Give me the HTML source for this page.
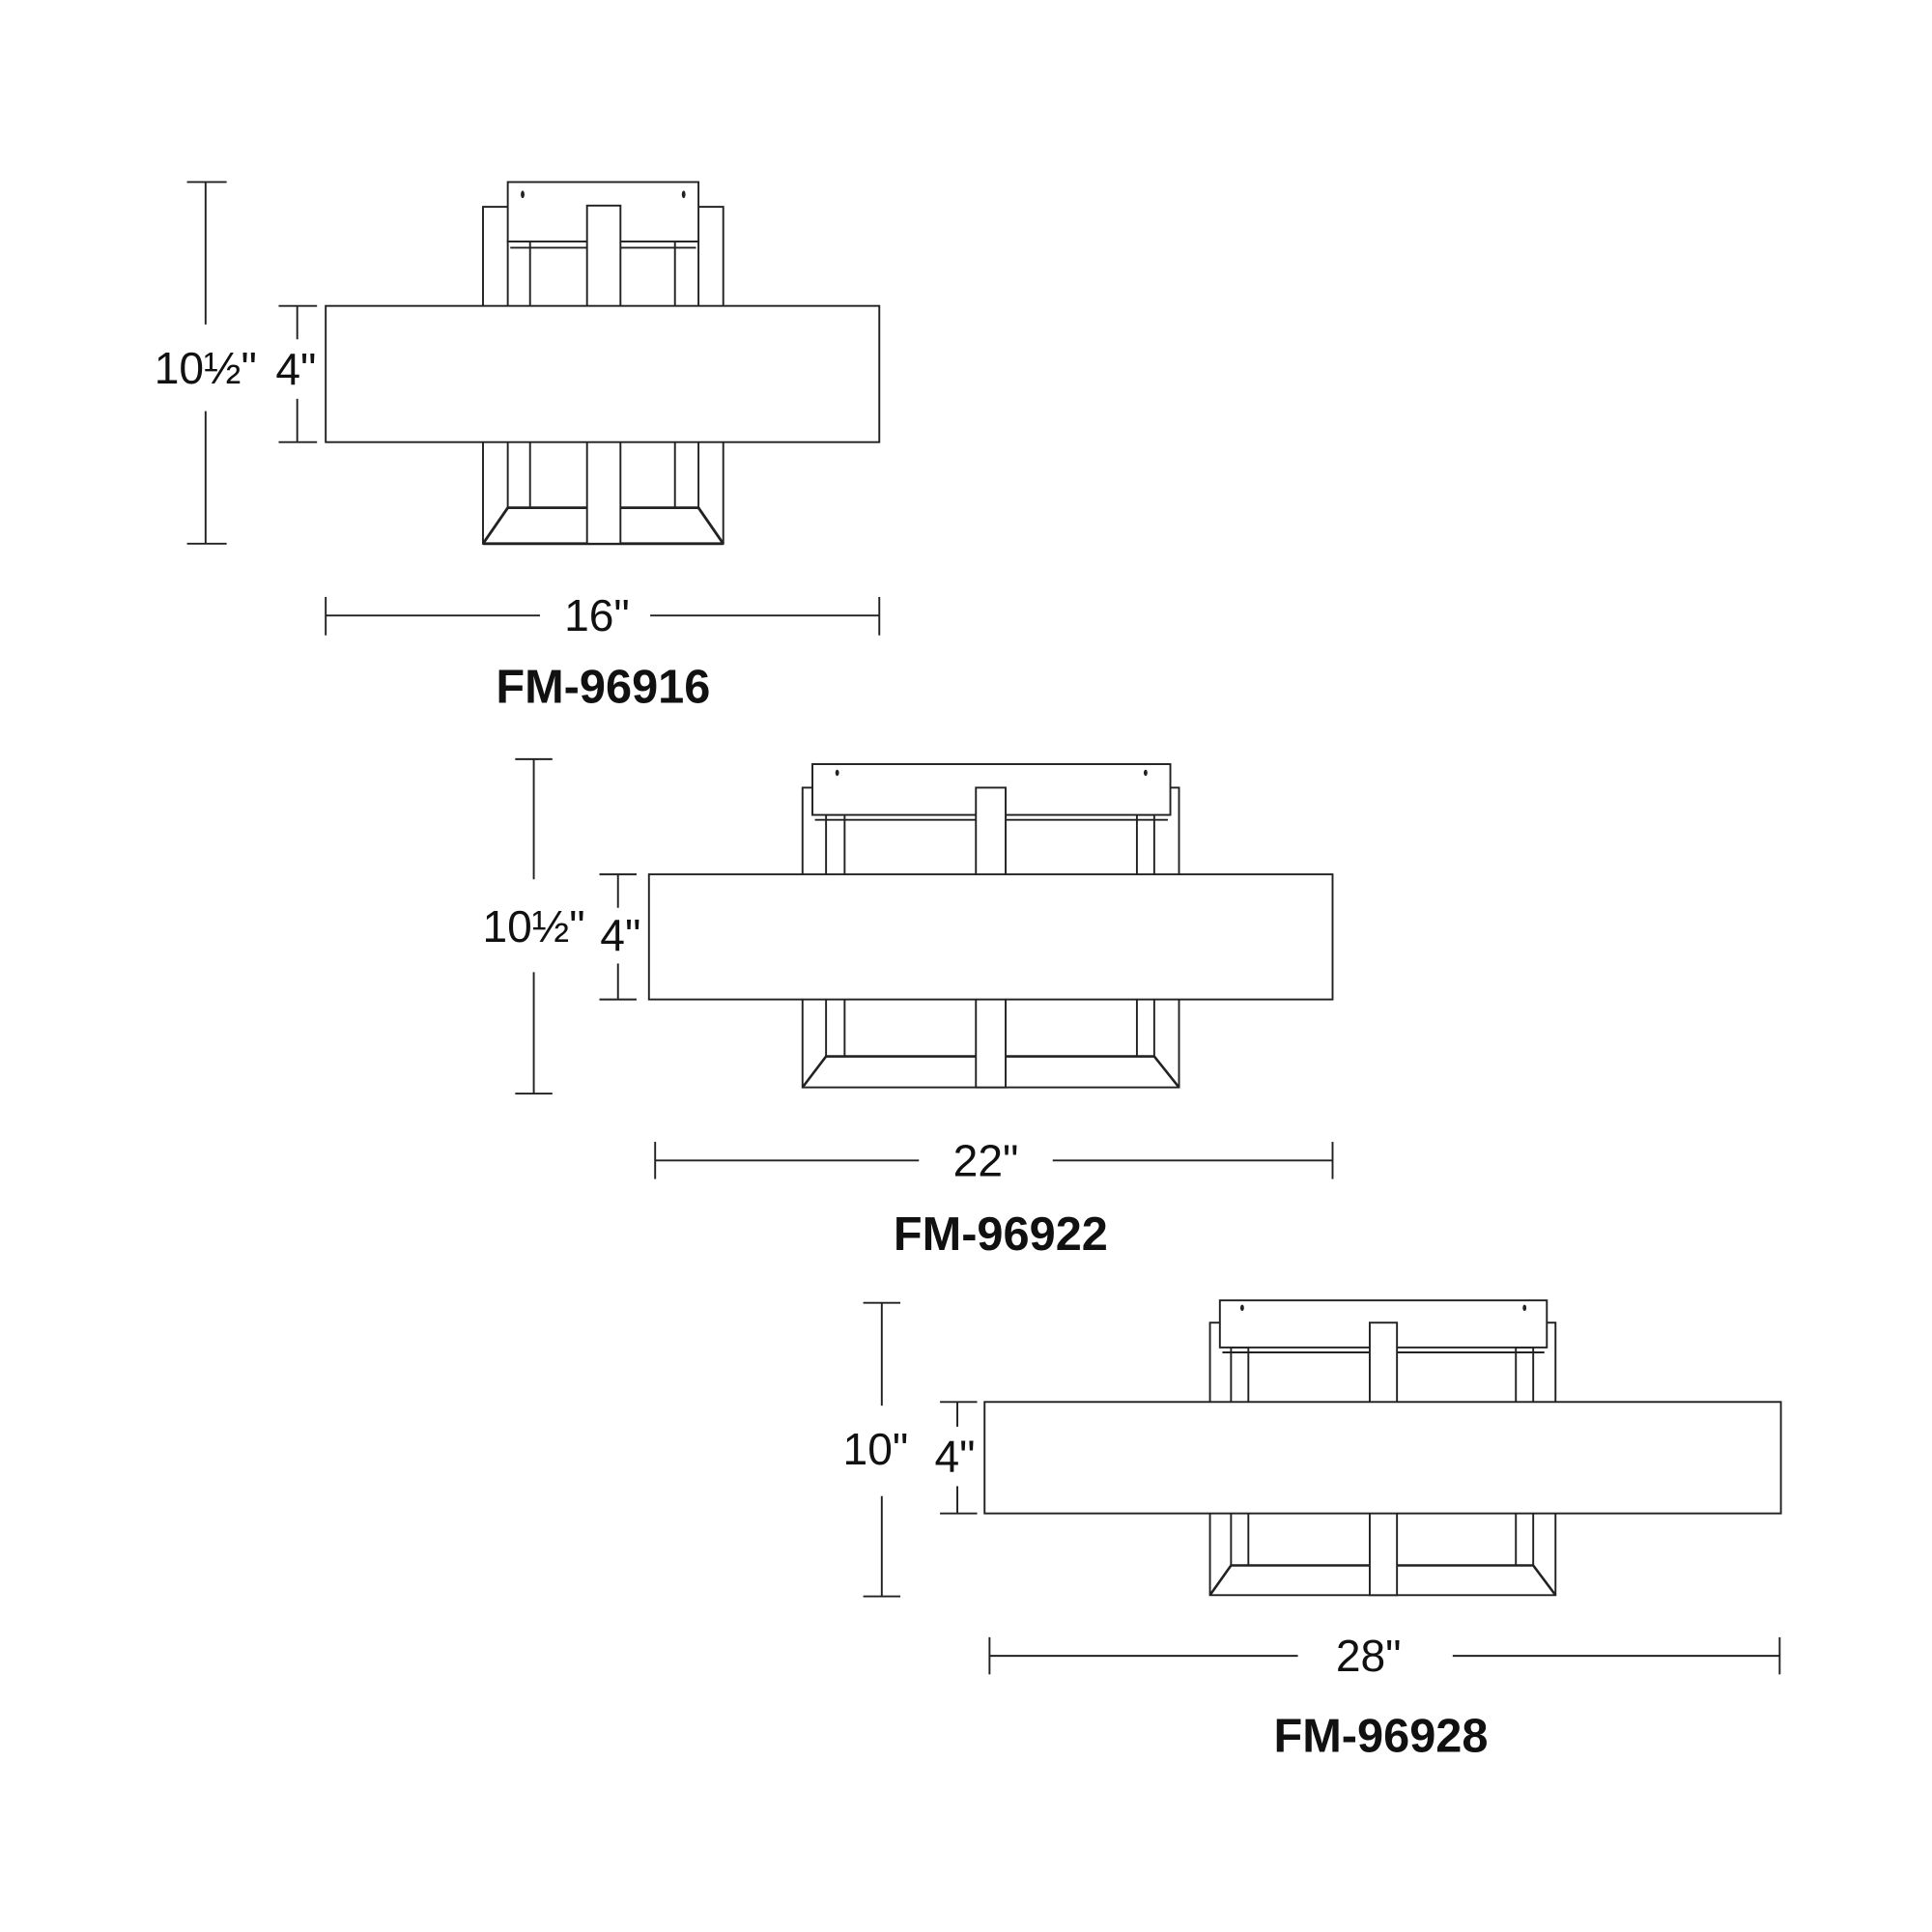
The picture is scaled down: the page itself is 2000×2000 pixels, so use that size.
<!DOCTYPE html>
<html><head><meta charset="utf-8"><style>
html,body{margin:0;padding:0;background:#fff;width:2000px;height:2000px;overflow:hidden}
svg{display:block}
.l{stroke:#222;stroke-width:1.5;fill:none}
.f{stroke:#222;stroke-width:1.5;fill:#fff}
.d{font-family:"Liberation Sans",sans-serif;font-size:36px;fill:#111;text-anchor:middle;dominant-baseline:central}
.b{font-family:"Liberation Sans",sans-serif;font-size:38px;font-weight:bold;fill:#111;text-anchor:middle;dominant-baseline:central}
</style></head><body>
<svg width="2000" height="2000" viewBox="0 0 1560 1560" xmlns="http://www.w3.org/2000/svg">
<g>
<line class="l" x1="166" y1="147" x2="166" y2="262"/><line class="l" x1="166" y1="332" x2="166" y2="439"/>
<line class="l" x1="151" y1="147" x2="183" y2="147"/><line class="l" x1="151" y1="439" x2="183" y2="439"/>
<text class="d" x="166" y="297">10½"</text>
<line class="l" x1="240" y1="247" x2="240" y2="274"/><line class="l" x1="240" y1="322" x2="240" y2="357"/>
<line class="l" x1="225" y1="247" x2="256" y2="247"/><line class="l" x1="225" y1="357" x2="256" y2="357"/>
<text class="d" x="239" y="298">4"</text>
<rect class="l" x="390" y="167" width="194" height="272"/>
<rect class="l" x="410" y="195" width="18" height="215"/><rect class="l" x="545" y="195" width="19" height="215"/>
<polyline class="l" points="390,439 410,410 564,410 584,439" style="stroke-width:2.2"/>
<line class="l" x1="390" y1="439" x2="584" y2="439" style="stroke-width:2.2"/>
<rect class="f" x="410" y="147" width="154" height="48"/>
<line class="l" x1="412" y1="200" x2="562" y2="200"/>
<ellipse cx="422" cy="157" rx="1.5" ry="3" fill="#222"/><ellipse cx="552" cy="157" rx="1.5" ry="3" fill="#222"/>
<rect class="f" x="474" y="166" width="27" height="273"/>
<rect class="f" x="263" y="247" width="447" height="110"/>
<line class="l" x1="263" y1="497" x2="436" y2="497"/><line class="l" x1="525" y1="497" x2="710" y2="497"/>
<line class="l" x1="263" y1="482" x2="263" y2="513"/><line class="l" x1="710" y1="482" x2="710" y2="513"/>
<text class="d" x="482" y="497">16"</text>
<text class="b" x="487" y="555">FM-96916</text>
</g>
<g>
<line class="l" x1="431" y1="613" x2="431" y2="710"/><line class="l" x1="431" y1="785" x2="431" y2="883"/>
<line class="l" x1="416" y1="613" x2="446" y2="613"/><line class="l" x1="416" y1="883" x2="446" y2="883"/>
<text class="d" x="431" y="748">10½"</text>
<line class="l" x1="499" y1="706" x2="499" y2="733"/><line class="l" x1="499" y1="778" x2="499" y2="807"/>
<line class="l" x1="484" y1="706" x2="514" y2="706"/><line class="l" x1="484" y1="807" x2="514" y2="807"/>
<text class="d" x="501" y="755">4"</text>
<rect class="l" x="648" y="636" width="304" height="242"/>
<rect class="l" x="667" y="658" width="15" height="195"/><rect class="l" x="918" y="658" width="14" height="195"/>
<polyline class="l" points="648,878 667,853 932,853 952,878" style="stroke-width:2"/>
<rect class="f" x="656" y="617" width="289" height="41"/>
<line class="l" x1="658" y1="662" x2="943" y2="662"/>
<ellipse cx="676" cy="624" rx="1.5" ry="2.5" fill="#222"/><ellipse cx="925" cy="624" rx="1.5" ry="2.5" fill="#222"/>
<rect class="f" x="788" y="636" width="24" height="242"/>
<rect class="f" x="524" y="706" width="552" height="101"/>
<line class="l" x1="529" y1="937" x2="742" y2="937"/><line class="l" x1="850" y1="937" x2="1076" y2="937"/>
<line class="l" x1="529" y1="922" x2="529" y2="952"/><line class="l" x1="1076" y1="922" x2="1076" y2="952"/>
<text class="d" x="796" y="937">22"</text>
<text class="b" x="808" y="997">FM-96922</text>
</g>
<g>
<line class="l" x1="712" y1="1052" x2="712" y2="1135"/><line class="l" x1="712" y1="1208" x2="712" y2="1289"/>
<line class="l" x1="697" y1="1052" x2="727" y2="1052"/><line class="l" x1="697" y1="1289" x2="727" y2="1289"/>
<text class="d" x="707" y="1170">10"</text>
<line class="l" x1="773" y1="1132" x2="773" y2="1152"/><line class="l" x1="773" y1="1200" x2="773" y2="1222"/>
<line class="l" x1="759" y1="1132" x2="789" y2="1132"/><line class="l" x1="759" y1="1222" x2="789" y2="1222"/>
<text class="d" x="771" y="1176">4"</text>
<rect class="l" x="977" y="1068" width="279" height="220"/>
<rect class="l" x="994" y="1088" width="14" height="176"/><rect class="l" x="1224" y="1088" width="14" height="176"/>
<polyline class="l" points="977,1288 994,1264 1238,1264 1256,1288" style="stroke-width:2"/>
<rect class="f" x="985" y="1050" width="264" height="38"/>
<line class="l" x1="987" y1="1092" x2="1247" y2="1092"/>
<ellipse cx="1003" cy="1056" rx="1.5" ry="2.5" fill="#222"/><ellipse cx="1231" cy="1056" rx="1.5" ry="2.5" fill="#222"/>
<rect class="f" x="1106" y="1068" width="22" height="220"/>
<rect class="f" x="795" y="1132" width="643" height="90"/>
<line class="l" x1="799" y1="1337" x2="1048" y2="1337"/><line class="l" x1="1173" y1="1337" x2="1437" y2="1337"/>
<line class="l" x1="799" y1="1322" x2="799" y2="1352"/><line class="l" x1="1437" y1="1322" x2="1437" y2="1352"/>
<text class="d" x="1105" y="1337">28"</text>
<text class="b" x="1115" y="1402">FM-96928</text>
</g>
</svg>
</body></html>
